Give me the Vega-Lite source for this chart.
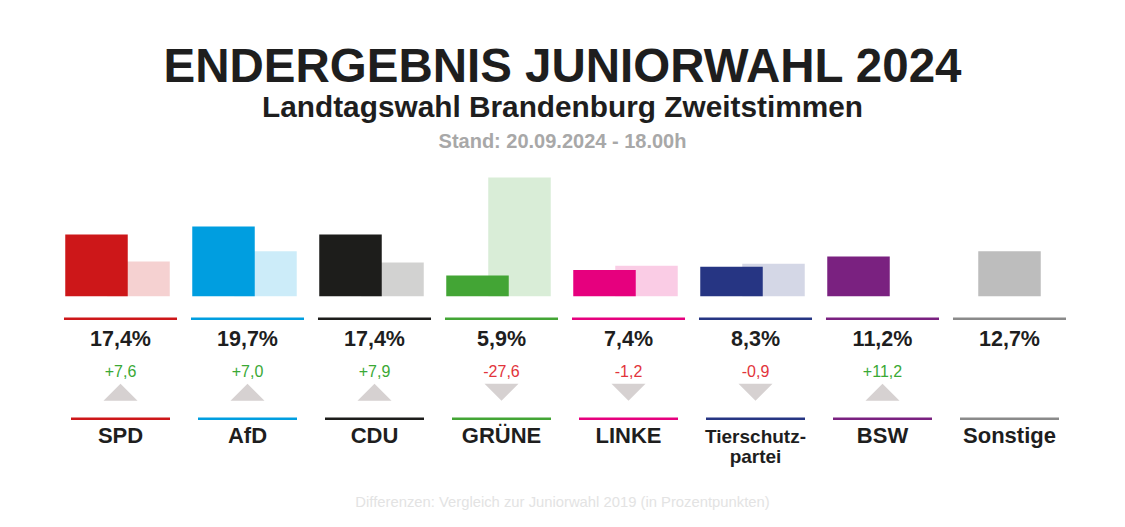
{
  "$schema": "https://vega.github.io/schema/vega-lite/v6.json",
  "width": 1125,
  "height": 527,
  "autosize": {"type": "fit", "contains": "padding"},
  "padding": 0,
  "background": "#ffffff",
  "config": {
    "view": {"stroke": null},
    "font": "Liberation Sans",
    "locale": {"number": {"decimal": ",", "thousands": ".", "grouping": [3], "currency": ["", "%"], "minus": "-"}}
  },
  "data": {"values": [
    {"party": "SPD", "label": "SPD", "pct": 17.4, "prev": 9.8, "diff": 7.6},
    {"party": "AfD", "label": "AfD", "pct": 19.7, "prev": 12.7, "diff": 7.0},
    {"party": "CDU", "label": "CDU", "pct": 17.4, "prev": 9.5, "diff": 7.9},
    {"party": "GRÜNE", "label": "GRÜNE", "pct": 5.9, "prev": 33.5, "diff": -27.6},
    {"party": "LINKE", "label": "LINKE", "pct": 7.4, "prev": 8.6, "diff": -1.2},
    {"party": "Tierschutzpartei", "label": "Tierschutz-\npartei", "pct": 8.3, "prev": 9.2, "diff": -0.9},
    {"party": "BSW", "label": "BSW", "pct": 11.2, "prev": null, "diff": 11.2},
    {"party": "Sonstige", "label": "Sonstige", "pct": 12.7, "prev": null, "diff": null}
  ]},
  "layer": [
    {
      "transform": [{"filter": "isValid(datum.prev)"}],
      "mark": {"type": "bar", "width": 62.5, "xOffset": 18, "opacity": 0.2},
      "encoding": {
        "x": {"field": "party", "type": "nominal", "sort": null, "axis": null,
              "scale": {"type": "band", "domain": ["SPD", "AfD", "CDU", "GRÜNE", "LINKE", "Tierschutzpartei", "BSW", "Sonstige"], "range": [57, 1073], "paddingInner": 0.11, "paddingOuter": 0.055}},
        "y": {"field": "prev", "type": "quantitative", "axis": null, "scale": {"domain": [-65.08, 83.58], "nice": false, "zero": false}},
        "color": {"field": "party", "type": "nominal", "legend": null,
                  "scale": {"domain": ["SPD", "AfD", "CDU", "GRÜNE", "LINKE", "Tierschutzpartei", "BSW", "Sonstige"],
                            "range": ["#cd1719", "#009ee0", "#1d1d1b", "#43a535", "#e6007e", "#263583", "#7a2180", "#8a8a8a"]}}
      }
    },
    {
      "transform": [{"filter": "datum.party !== 'Sonstige'"}],
      "mark": {"type": "bar", "width": 62.5, "xOffset": -24},
      "encoding": {
        "x": {"field": "party", "type": "nominal", "sort": null, "axis": null},
        "y": {"field": "pct", "type": "quantitative", "axis": null},
        "color": {"field": "party", "type": "nominal", "legend": null}
      }
    },
    {
      "transform": [{"filter": "datum.party === 'Sonstige'"}],
      "mark": {"type": "bar", "width": 62.5, "color": "#bdbdbd"},
      "encoding": {
        "x": {"field": "party", "type": "nominal", "sort": null, "axis": null},
        "y": {"field": "pct", "type": "quantitative", "axis": null}
      }
    },
    {
      "mark": {"type": "bar"},
      "encoding": {
        "x": {"field": "party", "type": "nominal", "sort": null, "axis": null},
        "y": {"datum": -5.98, "type": "quantitative", "axis": null},
        "y2": {"datum": -6.69},
        "color": {"field": "party", "type": "nominal", "legend": null}
      }
    },
    {
      "mark": {"type": "text", "fontSize": 21.5, "fontWeight": "bold", "baseline": "alphabetic", "align": "center", "color": "#1e1e1e"},
      "encoding": {
        "x": {"field": "party", "type": "nominal", "sort": null, "axis": null},
        "y": {"datum": -13.93, "type": "quantitative", "axis": null},
        "text": {"field": "pct", "type": "quantitative", "format": "$.1f"}
      }
    },
    {
      "transform": [{"filter": "isValid(datum.diff)"}],
      "mark": {"type": "text", "fontSize": 16, "baseline": "alphabetic", "align": "center"},
      "encoding": {
        "x": {"field": "party", "type": "nominal", "sort": null, "axis": null},
        "y": {"datum": -22.8, "type": "quantitative", "axis": null},
        "text": {"field": "diff", "type": "quantitative", "format": "+.1f"},
        "color": {"condition": {"test": "datum.diff < 0", "value": "#e2343b"}, "value": "#3aa935"}
      }
    },
    {
      "transform": [{"filter": "isValid(datum.diff)"}],
      "mark": {"type": "point", "filled": true, "size": 1156, "opacity": 1, "strokeWidth": 0, "color": "#d6d1d1"},
      "encoding": {
        "x": {"field": "party", "type": "nominal", "sort": null, "axis": null},
        "y": {"datum": -27.08, "type": "quantitative", "axis": null},
        "shape": {"condition": {"test": "datum.diff < 0", "value": "M-1,-0.5L1,-0.5L0,0.5Z"}, "value": "M-1,0.5L1,0.5L0,-0.5Z"}
      }
    },
    {
      "mark": {"type": "bar", "width": 99},
      "encoding": {
        "x": {"field": "party", "type": "nominal", "sort": null, "axis": null},
        "y": {"datum": -34.19, "type": "quantitative", "axis": null},
        "y2": {"datum": -34.89},
        "color": {"field": "party", "type": "nominal", "legend": null}
      }
    },
    {
      "mark": {"type": "text", "fontWeight": "bold", "baseline": "alphabetic", "align": "center", "color": "#1e1e1e", "lineBreak": "\n", "lineHeight": 20},
      "encoding": {
        "x": {"field": "party", "type": "nominal", "sort": null, "axis": null},
        "y": {"datum": -41.3, "type": "quantitative", "axis": null},
        "text": {"field": "label", "type": "nominal"},
        "size": {"condition": {"test": "datum.party === 'Tierschutzpartei'", "value": 19}, "value": 22}
      }
    },
    {
      "data": {"values": [{}]},
      "mark": {"type": "text", "text": "ENDERGEBNIS JUNIORWAHL 2024", "x": {"expr": "width/2"}, "fontSize": 47.5, "fontWeight": "bold", "baseline": "alphabetic", "align": "center", "color": "#1e1e1e"},
      "encoding": {"y": {"datum": 60.45, "type": "quantitative", "axis": null}}
    },
    {
      "data": {"values": [{}]},
      "mark": {"type": "text", "text": "Landtagswahl Brandenburg Zweitstimmen", "x": {"expr": "width/2"}, "fontSize": 29.8, "fontWeight": "bold", "baseline": "alphabetic", "align": "center", "color": "#1e1e1e"},
      "encoding": {"y": {"datum": 50.56, "type": "quantitative", "axis": null}}
    },
    {
      "data": {"values": [{}]},
      "mark": {"type": "text", "text": "Stand: 20.09.2024 - 18.00h", "x": {"expr": "width/2"}, "fontSize": 20, "fontWeight": "bold", "baseline": "alphabetic", "align": "center", "color": "#a8a8a8"},
      "encoding": {"y": {"datum": 41.83, "type": "quantitative", "axis": null}}
    },
    {
      "data": {"values": [{}]},
      "mark": {"type": "text", "text": "Differenzen: Vergleich zur Juniorwahl 2019 (in Prozentpunkten)", "x": {"expr": "width/2"}, "fontSize": 14.8, "baseline": "alphabetic", "align": "center", "color": "#e3e3e3"},
      "encoding": {"y": {"datum": -59.44, "type": "quantitative", "axis": null}}
    }
  ]
}
